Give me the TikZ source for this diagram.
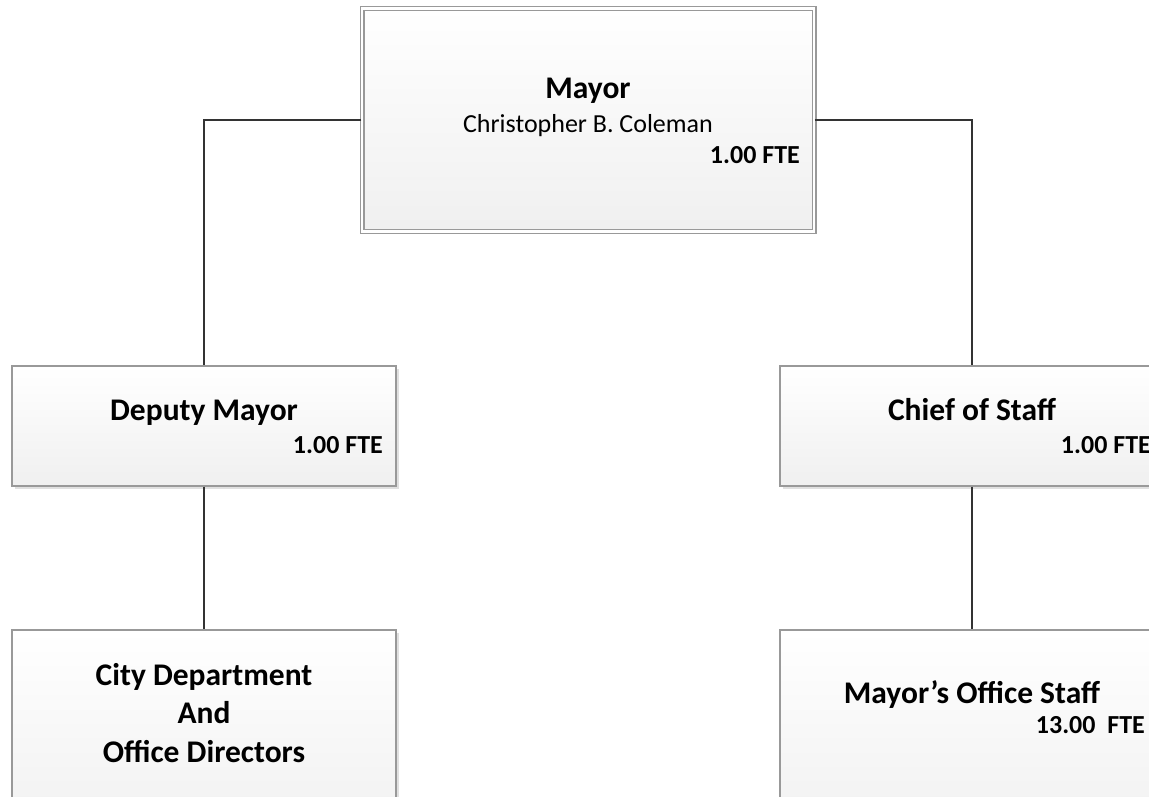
\documentclass[tikz,border=0pt]{standalone}
\usepackage{fontspec}
\setmainfont{Carlito}
\usetikzlibrary{shadows}

\begin{document}
\begin{tikzpicture}[x=1pt, y=-1pt,
    orgbox/.style={draw=gray!80, line width=1.3pt, top color=white, bottom color=gray!12,
      inner sep=0pt, drop shadow={shadow xshift=2.5pt, shadow yshift=-2.5pt, fill=gray!30, opacity=0.8}},
    link/.style={draw=black!80, line width=1.6pt},
    head/.style={inner sep=0pt, font=\fontsize{31.5}{38.5}\selectfont\bfseries},
    who/.style={inner sep=0pt, font=\fontsize{26}{31}\selectfont},
    fte/.style={inner sep=0pt, font=\fontsize{26}{31}\selectfont\bfseries}]
    \useasboundingbox (0,0) rectangle (1149,796);
    \clip (0,0) rectangle (1149,796);
    \fill[white] (0,0) rectangle (1149,796);

    % boxes
    \node[orgbox, double=white, double distance=2.8pt, line width=1.1pt,
      minimum width=452pt, minimum height=223pt] (mayor) at (588,120) {};
    \node[orgbox, minimum width=384pt, minimum height=120pt] (deputy) at (204,426) {};
    \node[orgbox, minimum width=384pt, minimum height=120pt] (chief) at (972,426) {};
    \node[orgbox, minimum width=384pt, minimum height=220pt] (city) at (204,740) {};
    \node[orgbox, minimum width=384pt, minimum height=220pt] (staff) at (972,740) {};

    % connectors
    \draw[link] (mayor.west) -| (deputy.north);
    \draw[link] (mayor.east) -| (chief.north);
    \draw[link] (deputy.south) -- (city.north);
    \draw[link] (chief.south) -- (staff.north);

    % texts
    \node[head, anchor=base] (mayortitle) at (588,98) {Mayor};
    \node[who, anchor=base] (mayorname) at (588,132) {Christopher B. Coleman};
    \node[fte, anchor=base east] (mayorfte) at (800,163) {1.00 FTE};

    \node[head, anchor=base] (deputytitle) at (204,420) {Deputy Mayor};
    \node[fte, anchor=base east] (deputyfte) at (383,453) {1.00 FTE};

    \node[head, anchor=base] (chieftitle) at (972,420) {Chief of Staff};
    \node[fte, anchor=base east] (chieffte) at (1151,453) {1.00 FTE};

    \node[head, anchor=base, align=center] (citytitle) at (204,762) {City Department\\And\\Office Directors};

    \node[head, anchor=base] (stafftitle) at (972,703) {Mayor’s Office Staff};
    \node[fte, anchor=base east] (stafffte) at (1145,733) {13.00\ \ FTE};
  \end{tikzpicture}
\end{document}
